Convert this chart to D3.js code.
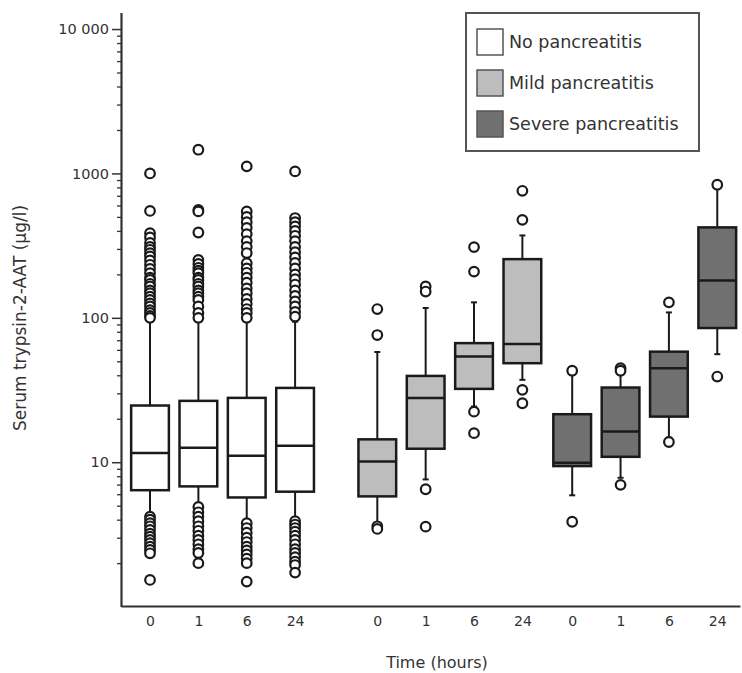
<!DOCTYPE html>
<html>
<head>
<meta charset="utf-8">
<title>Serum trypsin-2-AAT</title>
<script src="https://d3js.org/d3.v7.min.js"></script>
<style>
body { margin: 0; background: #fff; }
svg { font-family: "DejaVu Sans", sans-serif; }
.axis path, .axis line { stroke: #333; }
.axis text { fill: #333; }
</style>
</head>
<body>
<div id="chart"></div>
<script>
var groups = ["No pancreatitis", "Mild pancreatitis", "Severe pancreatitis"],
    times = ["0", "1", "6", "24"],
    fills = ["#ffffff", "#bdbdbd", "#707070"];

// per box, in order N0 N1 N6 N24, M0 .. M24, S0 .. S24
var q1      = [6.4, 6.8, 5.7, 6.25,  5.8, 12.4, 32.2, 48.5,  9.4, 10.9, 20.7, 85],
    median  = [11.6, 12.6, 11.1, 13.0,  10.1, 27.8, 53.9, 66,  9.9, 16.3, 44.8, 181],
    q3      = [24.7, 26.6, 27.9, 32.7,  14.4, 39.6, 66.8, 255,  21.5, 32.9, 58.3, 423],
    whiskLo = [4.46, 5.2, 3.87, 3.98,  3.67, 7.6, 24.3, 37.2,  5.9, 7.8, 14.8, 56],
    whiskHi = [94, 94, 94, 94,  58, 117, 128, 372,  42, 41.6, 109, 796];

var outliers = [
  [1000, 550, 386, 360, 330, 310, 296, 280, 266, 250, 233, 218, 204, 190, 183, 172, 165, 155, 148, 140, 133, 126, 120, 113, 108, 103, 100,
   4.2, 4.0, 3.78, 3.6, 3.4, 3.2, 3.05, 2.9, 2.75, 2.6, 2.47, 2.34, 1.53],
  [1460, 560, 546, 390, 252, 236, 222, 212, 204, 190, 183, 172, 165, 155, 148, 140, 133, 120, 108, 100,
   4.9, 4.5, 4.2, 3.9, 3.6, 3.35, 3.1, 2.9, 2.7, 2.5, 2.35, 2.0],
  [1120, 546, 500, 460, 420, 380, 340, 310, 281, 239, 220, 205, 190, 175, 160, 148, 135, 125, 115, 108, 100,
   3.78, 3.5, 3.25, 3.0, 2.8, 2.6, 2.45, 2.3, 2.15, 2.0, 1.49],
  [1033, 491, 460, 430, 400, 370, 340, 310, 285, 262, 240, 220, 200, 185, 170, 155, 142, 130, 120, 110, 102,
   3.9, 3.7, 3.5, 3.3, 3.1, 2.9, 2.7, 2.5, 2.35, 2.2, 2.05, 1.94, 1.72],
  [115, 76, 3.6, 3.45],
  [165, 152, 6.5, 3.58],
  [309, 209, 22.4, 15.9],
  [758, 477, 31.7, 25.6],
  [43, 3.87],
  [44.8, 43, 6.97],
  [128, 13.8],
  [835, 39.2]
];

var yTicks = [10, 100, 1000, 10000],
    yTickLabels = ["10", "100", "1000", "10 000"],
    groupStart = [0, 4.7, 8.73];

var W = 742, H = 673;

var svg = d3.select("#chart").append("svg")
    .attr("width", W).attr("height", H);

var x = d3.scaleLinear().domain([-0.6, 12.2]).range([121, 740]);
var y = d3.scaleLog().domain([1, 13000]).range([606.6, 12.6]);

var boxes = [];
groups.forEach(function(g, gi) {
  times.forEach(function(t, ti) {
    var k = gi * 4 + ti;
    boxes.push({ group: gi, time: t, slot: groupStart[gi] + ti,
      q1: q1[k], med: median[k], q3: q3[k], lo: whiskLo[k], hi: whiskHi[k], out: outliers[k] });
  });
});

// minor ticks
var minor = [];
[1, 10, 100, 1000].forEach(function(d) {
  for (var m = 2; m <= 9; m++) minor.push(d * m);
});
svg.append("g").attr("class", "axis")
    .attr("transform", "translate(121,0)")
    .call(d3.axisLeft(y).tickValues(minor).tickSize(4).tickFormat(""))
    .call(function(g) { g.select(".domain").remove(); })
    .selectAll("line").attr("stroke-width", 1.3);

var yAxis = svg.append("g").attr("class", "axis")
    .attr("transform", "translate(121,0)")
    .call(d3.axisLeft(y).tickValues(yTicks).tickSize(9).tickSizeOuter(0).tickPadding(3)
      .tickFormat(function(d, i) { return yTickLabels[i]; }));
yAxis.select(".domain").attr("stroke-width", 2.2);
yAxis.selectAll("line").attr("stroke-width", 1.5);
yAxis.selectAll("text").attr("font-size", 14.5).attr("font-family", "DejaVu Sans");

var xAxis = svg.append("g").attr("class", "axis")
    .attr("transform", "translate(0,606)")
    .call(d3.axisBottom(x).tickValues(boxes.map(function(b) { return b.slot; }))
      .tickSize(0).tickSizeOuter(0).tickPadding(10)
      .tickFormat(function(d, i) { return boxes[i].time; }));
xAxis.select(".domain").attr("stroke-width", 2.2);
xAxis.selectAll("text").attr("font-size", 14).attr("font-family", "DejaVu Sans");

var bw = x(0.39) - x(-0.39), cap = 3;

var bx = svg.append("g").selectAll("g").data(boxes).enter().append("g")
    .attr("transform", function(d) { return "translate(" + x(d.slot) + ",0)"; });

bx.append("line").attr("x1", 0).attr("x2", 0)
    .attr("y1", function(d) { return y(d.hi); })
    .attr("y2", function(d) { return y(d.lo); })
    .attr("stroke", "#1a1a1a").attr("stroke-width", 2);
bx.append("line").attr("x1", -cap).attr("x2", cap)
    .attr("y1", function(d) { return y(d.hi); }).attr("y2", function(d) { return y(d.hi); })
    .attr("stroke", "#1a1a1a").attr("stroke-width", 2);
bx.append("line").attr("x1", -cap).attr("x2", cap)
    .attr("y1", function(d) { return y(d.lo); }).attr("y2", function(d) { return y(d.lo); })
    .attr("stroke", "#1a1a1a").attr("stroke-width", 2);
bx.append("rect")
    .attr("x", -bw / 2).attr("width", bw)
    .attr("y", function(d) { return y(d.q3); })
    .attr("height", function(d) { return y(d.q1) - y(d.q3); })
    .attr("fill", function(d) { return fills[d.group]; })
    .attr("stroke", "#1a1a1a").attr("stroke-width", 2.5);
bx.append("line").attr("x1", -bw / 2).attr("x2", bw / 2)
    .attr("y1", function(d) { return y(d.med); }).attr("y2", function(d) { return y(d.med); })
    .attr("stroke", "#1a1a1a").attr("stroke-width", 2.5);
bx.selectAll("circle").data(function(d) { return d.out; }).enter().append("circle")
    .attr("cx", 0).attr("cy", function(v) { return y(v); }).attr("r", 4.8)
    .attr("fill", "#fff").attr("stroke", "#1a1a1a").attr("stroke-width", 2.2);

// axis titles
svg.append("text")
    .attr("transform", "translate(26,318) rotate(-90)")
    .attr("text-anchor", "middle").attr("font-size", 17).attr("fill", "#333")
    .text("Serum trypsin-2-AAT (µg/l)");
svg.append("text")
    .attr("x", 437).attr("y", 668)
    .attr("text-anchor", "middle").attr("font-size", 16).attr("fill", "#333")
    .text("Time (hours)");

// legend
var lg = svg.append("g").attr("transform", "translate(466,13)");
lg.append("rect").attr("width", 233).attr("height", 138)
    .attr("fill", "#fff").attr("stroke", "#555").attr("stroke-width", 2);
var li = lg.selectAll("g.item").data(groups).enter().append("g").attr("class", "item")
    .attr("transform", function(d, i) { return "translate(11," + (16 + i * 41) + ")"; });
li.append("rect").attr("width", 26).attr("height", 26)
    .attr("fill", function(d, i) { return fills[i]; })
    .attr("stroke", "#555").attr("stroke-width", 1.5);
li.append("text").attr("x", 32).attr("y", 19)
    .attr("font-size", 17.5).attr("fill", "#333")
    .text(function(d) { return d; });
</script>
</body>
</html>
